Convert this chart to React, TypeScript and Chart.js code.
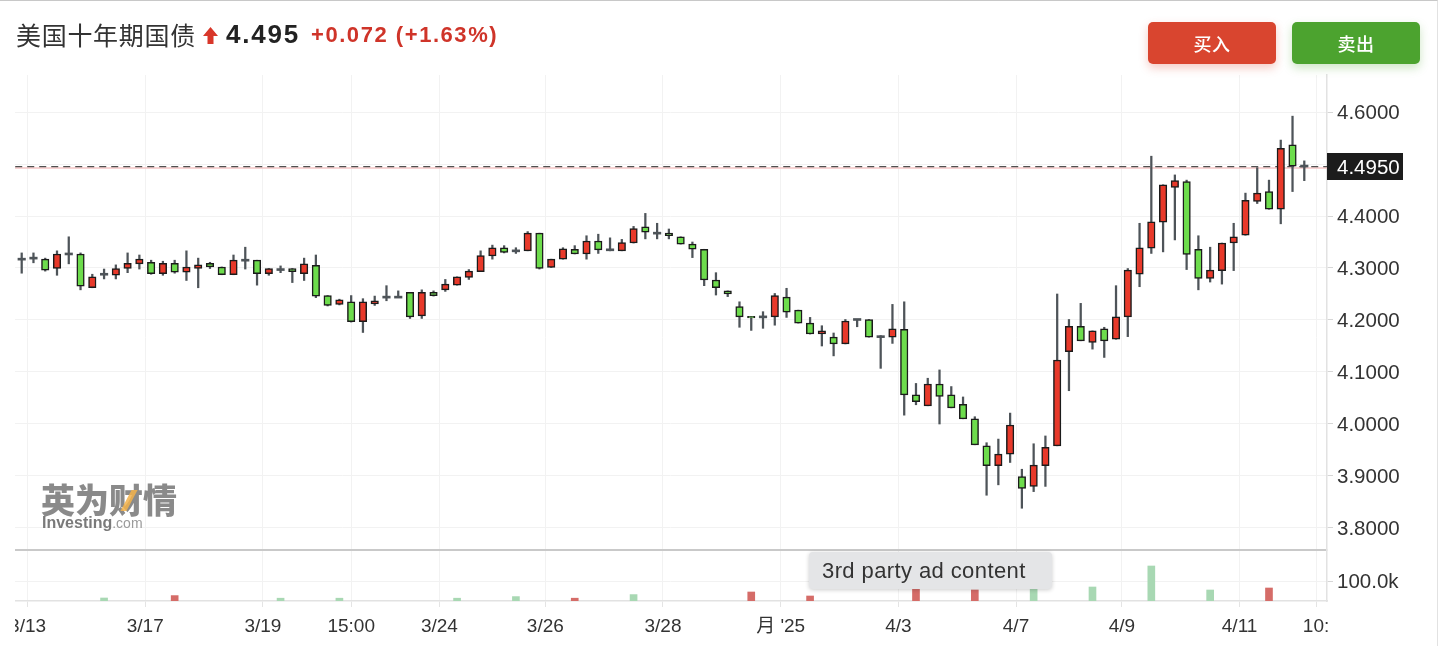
import React, { useEffect, useRef } from "react";
import { Chart, registerables } from "chart.js";

Chart.register(...registerables);

// ---------- data ----------
const opens = [
  4.317, 4.319, 4.317, 4.299, 4.327, 4.327, 4.262, 4.288, 4.286, 4.299,
  4.308, 4.311, 4.289, 4.309, 4.292, 4.299, 4.309, 4.302, 4.287, 4.315,
  4.315, 4.289, 4.297, 4.299, 4.289, 4.305, 4.247, 4.230, 4.235, 4.197,
  4.231, 4.244, 4.244, 4.253, 4.208, 4.253, 4.258, 4.267, 4.282, 4.293,
  4.323, 4.339, 4.333, 4.333, 4.367, 4.301, 4.317, 4.336, 4.327, 4.352,
  4.335, 4.333, 4.348, 4.379, 4.367, 4.367, 4.360, 4.346, 4.336, 4.277,
  4.256, 4.226, 4.207, 4.206, 4.206, 4.244, 4.219, 4.194, 4.173, 4.167,
  4.154, 4.201, 4.201, 4.168, 4.167, 4.182, 4.056, 4.035, 4.077, 4.056,
  4.038, 4.010, 3.958, 3.920, 3.942, 3.899, 3.880, 3.920, 3.958, 4.139,
  4.188, 4.157, 4.183, 4.163, 4.206, 4.288, 4.338, 4.388, 4.455, 4.466,
  4.336, 4.280, 4.295, 4.348, 4.363, 4.428, 4.447, 4.413, 4.537, 4.496,
];
const closes = [
  4.317, 4.319, 4.296, 4.327, 4.327, 4.265, 4.283, 4.288, 4.299, 4.309,
  4.317, 4.289, 4.309, 4.292, 4.302, 4.306, 4.302, 4.287, 4.315, 4.315,
  4.289, 4.299, 4.297, 4.293, 4.308, 4.246, 4.228, 4.239, 4.197, 4.235,
  4.237, 4.244, 4.244, 4.206, 4.253, 4.247, 4.269, 4.283, 4.294, 4.324,
  4.339, 4.330, 4.333, 4.367, 4.299, 4.317, 4.337, 4.327, 4.352, 4.335,
  4.335, 4.349, 4.376, 4.369, 4.367, 4.362, 4.346, 4.336, 4.277, 4.262,
  4.250, 4.206, 4.204, 4.206, 4.247, 4.215, 4.194, 4.173, 4.179, 4.154,
  4.198, 4.201, 4.167, 4.168, 4.183, 4.056, 4.043, 4.077, 4.053, 4.031,
  4.010, 3.960, 3.920, 3.942, 3.998, 3.876, 3.921, 3.955, 4.123, 4.188,
  4.160, 4.179, 4.160, 4.206, 4.296, 4.339, 4.389, 4.460, 4.468, 4.326,
  4.280, 4.296, 4.348, 4.360, 4.430, 4.444, 4.413, 4.530, 4.496, 4.496,
];
const highs = [
  4.329, 4.329, 4.319, 4.333, 4.360, 4.329, 4.288, 4.298, 4.306, 4.329,
  4.325, 4.315, 4.313, 4.315, 4.333, 4.319, 4.311, 4.302, 4.325, 4.340,
  4.315, 4.299, 4.304, 4.299, 4.319, 4.325, 4.247, 4.240, 4.247, 4.241,
  4.246, 4.266, 4.256, 4.253, 4.258, 4.256, 4.278, 4.283, 4.297, 4.333,
  4.344, 4.343, 4.339, 4.370, 4.367, 4.317, 4.339, 4.343, 4.362, 4.365,
  4.358, 4.355, 4.380, 4.405, 4.386, 4.375, 4.360, 4.350, 4.336, 4.291,
  4.256, 4.235, 4.207, 4.216, 4.251, 4.261, 4.219, 4.205, 4.189, 4.175,
  4.201, 4.201, 4.201, 4.170, 4.230, 4.235, 4.078, 4.088, 4.104, 4.072,
  4.052, 4.014, 3.964, 3.971, 4.021, 3.913, 3.962, 3.977, 4.250, 4.201,
  4.232, 4.179, 4.186, 4.266, 4.299, 4.386, 4.515, 4.460, 4.479, 4.469,
  4.362, 4.340, 4.348, 4.386, 4.444, 4.493, 4.469, 4.546, 4.592, 4.506,
];
const lows = [
  4.290, 4.310, 4.294, 4.286, 4.308, 4.258, 4.262, 4.279, 4.279, 4.291,
  4.298, 4.288, 4.286, 4.290, 4.276, 4.262, 4.299, 4.287, 4.287, 4.298,
  4.267, 4.286, 4.291, 4.272, 4.276, 4.243, 4.227, 4.229, 4.196, 4.176,
  4.228, 4.237, 4.243, 4.203, 4.203, 4.246, 4.255, 4.267, 4.278, 4.293,
  4.317, 4.329, 4.328, 4.333, 4.298, 4.301, 4.317, 4.327, 4.317, 4.328,
  4.333, 4.333, 4.348, 4.356, 4.356, 4.356, 4.346, 4.320, 4.266, 4.248,
  4.245, 4.186, 4.180, 4.184, 4.190, 4.205, 4.194, 4.173, 4.150, 4.131,
  4.154, 4.187, 4.167, 4.107, 4.155, 4.017, 4.037, 4.035, 4.000, 4.031,
  4.010, 3.960, 3.863, 3.883, 3.926, 3.838, 3.870, 3.880, 3.958, 4.064,
  4.160, 4.144, 4.128, 4.163, 4.168, 4.264, 4.328, 4.331, 4.354, 4.297,
  4.258, 4.273, 4.269, 4.295, 4.363, 4.424, 4.413, 4.385, 4.447, 4.468,
];

const volumeIndex = [7, 13, 22, 27, 37, 42, 47, 52, 62, 67, 76, 81, 86, 91, 96, 101, 106];
const volumeValues = [15000, 27000, 14000, 14000, 14000, 22000, 14000, 32000, 45000, 25000, 80000, 55000, 80000, 70000, 175000, 55000, 65000];
const volumeRising = [false, true, false, false, false, false, true, false, true, true, true, true, false, false, false, false, true];

const priceTicks = [3.8, 3.9, 4.0, 4.1, 4.2, 4.3, 4.4, 4.5, 4.6];
const volumeTicks = [100000];
const timeTickPos = [0.5, 10.5, 20.5, 28, 35.5, 44.5, 54.5, 64.5, 74.5, 84.5, 93.5, 103.5, 110];
const timeTickLabels = ["3/13", "3/17", "3/19", "15:00", "3/24", "3/26", "3/28", "月 '25", "4/3", "4/7", "4/9", "4/11", "10:"];

const lastPrice = 4.495;
const priceMin = 3.757692;
const priceMax = 4.671154;
const volumeMax = 255000;
const xMin = -0.5694;
const xMax = 110.93;

// ---------- styles ----------
const RED = "#e8392a";
const GREEN = "#6ddc4c";
const WICK = "#4e5459";
const VOL_RED = "#d56c68";
const VOL_GREEN = "#a8d8b3";
const GRID = "#f2f2f2";
const AXIS_FONT = "'Liberation Sans', 'Noto Sans CJK SC', Arial, sans-serif";

const lastPriceTag = {
  id: "lastPriceTag",
  afterDraw(chart: any) {
    const { ctx, chartArea } = chart;
    const y = chart.scales.y.getPixelForValue(lastPrice);
    ctx.save();
    ctx.fillStyle = "#1c1c1c";
    ctx.fillRect(chartArea.right, Math.round(y) - 14, 76, 27);
    ctx.fillStyle = "#ffffff";
    ctx.font = `20.5px ${AXIS_FONT}`;
    ctx.textBaseline = "middle";
    ctx.textAlign = "left";
    ctx.fillText(lastPrice.toFixed(4), chartArea.right + 10, Math.round(y) + 1);
    ctx.restore();
  },
};

function buildConfig(): any {
  const idx = opens.map((_, i) => i);
  const isDoji = (i: number) => opens[i] === closes[i];
  const bodies = idx.filter((i) => !isDoji(i)).map((i) => ({ x: i, y: [opens[i], closes[i]] }));
  const dojis = idx.filter((i) => isDoji(i)).map((i) => ({ x: i, y: [opens[i] - 0.0019, opens[i] + 0.0019] }));
  const wicks = idx.map((i) => ({ x: i, y: [lows[i], highs[i]] }));
  const vols = volumeIndex.map((x, k) => ({ x, y: volumeValues[k] }));

  return {
    type: "bar",
    data: {
      datasets: [
        {
          type: "bar",
          label: "body",
          data: bodies,
          yAxisID: "y",
          grouped: false,
          barThickness: 7.5,
          borderWidth: 1.5,
          borderSkipped: false,
          borderColor: "#1b1b1b",
          backgroundColor: (c: any) => (c.raw && c.raw.y[1] >= c.raw.y[0] ? RED : GREEN),
          order: 1,
        },
        {
          type: "bar",
          label: "doji",
          data: dojis,
          yAxisID: "y",
          grouped: false,
          barThickness: 7.5,
          borderWidth: 0,
          backgroundColor: WICK,
          order: 1,
        },
        {
          type: "bar",
          label: "wick",
          data: wicks,
          yAxisID: "y",
          grouped: false,
          barThickness: 1.6,
          borderWidth: 0,
          backgroundColor: WICK,
          order: 2,
        },
        {
          type: "line",
          label: "last",
          data: [{ x: xMin - 1, y: lastPrice }, { x: xMax + 1, y: lastPrice }],
          yAxisID: "y",
          borderColor: "#505050",
          borderWidth: 1.4,
          borderDash: [7, 5],
          pointRadius: 0,
          order: 3,
        },
        {
          type: "line",
          label: "lastShade",
          data: [{ x: xMin - 1, y: lastPrice - 0.0027 }, { x: xMax + 1, y: lastPrice - 0.0027 }],
          yAxisID: "y",
          borderColor: "#f4c4c4",
          borderWidth: 1.5,
          pointRadius: 0,
          order: 4,
        },
        {
          type: "bar",
          label: "volume",
          data: vols,
          yAxisID: "yVol",
          grouped: false,
          barThickness: 7,
          borderWidth: 0,
          backgroundColor: volumeRising.map((r) => (r ? VOL_RED : VOL_GREEN)),
          order: 5,
        },
      ],
    },
    options: {
      animation: false,
      responsive: false,
      maintainAspectRatio: false,
      layout: { padding: { top: 75, left: 0, right: 0, bottom: 0 } },
      plugins: { legend: { display: false }, tooltip: { enabled: false } },
      scales: {
        x: {
          type: "linear",
          min: xMin,
          max: xMax,
          offset: false,
          afterBuildTicks: (s: any) => {
            s.ticks = timeTickPos.map((v) => ({ value: v }));
          },
          afterFit: (s: any) => {
            s.height = 45;
            s.paddingLeft = 0;
            s.paddingRight = 0;
          },
          ticks: {
            autoSkip: false,
            maxRotation: 0,
            minRotation: 0,
            padding: 8,
            color: "#333",
            font: { family: AXIS_FONT, size: 19 },
            callback: (_v: any, i: number) => timeTickLabels[i],
          },
          grid: { color: GRID, tickColor: "#e4e4e4", tickLength: 6, offset: false },
          border: { color: "#e2e2e2", width: 1.5 },
        },
        y: {
          type: "linear",
          position: "right",
          stack: "panes",
          stackWeight: 475,
          min: priceMin,
          max: priceMax,
          afterBuildTicks: (s: any) => {
            s.ticks = priceTicks.map((v) => ({ value: v }));
          },
          afterFit: (s: any) => {
            s.width = 113;
          },
          ticks: {
            padding: 4,
            labelOffset: 1.5,
            color: "#333",
            font: { family: AXIS_FONT, size: 20.5 },
            callback: (v: any) => Number(v).toFixed(4),
          },
          grid: { color: GRID, tickColor: "#d6d6d6", tickLength: 6 },
          border: { color: "#e2e2e2", width: 1.5 },
        },
        yVol: {
          type: "linear",
          position: "right",
          stack: "panes",
          stackWeight: 51,
          min: 0,
          max: volumeMax,
          afterBuildTicks: (s: any) => {
            s.ticks = [...volumeTicks, volumeMax].map((v) => ({ value: v }));
          },
          afterFit: (s: any) => {
            s.width = 113;
          },
          ticks: {
            padding: 4,
            labelOffset: 1.5,
            color: "#333",
            font: { family: AXIS_FONT, size: 20.5 },
            callback: (v: any) => (v === volumeMax ? "" : (Number(v) / 1000).toFixed(1) + "k"),
          },
          grid: {
            color: (c: any) => (c.tick && c.tick.value === volumeMax ? "#c9c9c9" : GRID),
            lineWidth: (c: any) => (c.tick && c.tick.value === volumeMax ? 2 : 1),
            tickColor: (c: any) => (c.tick && c.tick.value === volumeMax ? "rgba(0,0,0,0)" : "#d6d6d6"),
            tickLength: 6,
          },
          border: { color: "#e2e2e2", width: 1.5 },
        },
      },
    },
    plugins: [lastPriceTag],
  };
}

export default function App() {
  const canvasRef = useRef<HTMLCanvasElement>(null);

  useEffect(() => {
    const chart = new Chart(canvasRef.current as HTMLCanvasElement, buildConfig());
    return () => chart.destroy();
  }, []);

  const cjk = "'Noto Sans CJK SC', 'Liberation Sans', sans-serif";
  const latin = "'Liberation Sans', Arial, sans-serif";

  return (
    <div style={{ position: "fixed", left: 0, top: 0, width: 1440, height: 646, background: "#fff", overflow: "hidden" }}>
      <div style={{ position: "absolute", left: 0, top: 0, width: 1438, height: 646, borderTop: "1px solid #c8c8c8", borderRight: "1px solid #e2e2e2", boxSizing: "border-box" }} />
      <canvas ref={canvasRef} width={1425} height={646} style={{ position: "absolute", left: 15, top: 0, width: 1425, height: 646 }} />

      {/* header */}
      <div style={{ position: "absolute", left: 16, top: 22, fontFamily: cjk, fontSize: 25, lineHeight: "25px", letterSpacing: 0.7, color: "#333", whiteSpace: "nowrap" }}>美国十年期国债</div>
      <svg style={{ position: "absolute", left: 203, top: 27 }} width="15" height="17" viewBox="0 0 15 17">
        <polygon points="7.5,0 15,9 10.5,9 10.5,17 4.5,17 4.5,9 0,9" fill="#d8372a" />
      </svg>
      <div style={{ position: "absolute", left: 226, top: 21, fontFamily: latin, fontWeight: 700, fontSize: 26, lineHeight: "26px", letterSpacing: 1.8, color: "#222", whiteSpace: "nowrap" }}>4.495</div>
      <div style={{ position: "absolute", left: 311, top: 24, fontFamily: latin, fontWeight: 700, fontSize: 22, lineHeight: "22px", letterSpacing: 1.55, color: "#cf3429", whiteSpace: "nowrap" }}>+0.072 (+1.63%)</div>

      {/* buttons */}
      <div style={{ position: "absolute", left: 1148, top: 22, width: 128, height: 42, background: "#d9452f", borderRadius: 5, boxShadow: "0 4px 10px rgba(217,69,47,0.28)", color: "#fff", fontFamily: cjk, fontWeight: 500, fontSize: 18, lineHeight: "42px", textAlign: "center", letterSpacing: 0.5 }}>买入</div>
      <div style={{ position: "absolute", left: 1292, top: 22, width: 128, height: 42, background: "#4ca32f", borderRadius: 5, boxShadow: "0 4px 10px rgba(76,163,47,0.28)", color: "#fff", fontFamily: cjk, fontWeight: 500, fontSize: 18, lineHeight: "42px", textAlign: "center", letterSpacing: 0.5 }}>卖出</div>

      {/* watermark */}
      <div style={{ position: "absolute", left: 41, top: 482, fontFamily: cjk, fontWeight: 900, fontSize: 34, lineHeight: "34px", color: "#8a8a8a", letterSpacing: 0, whiteSpace: "nowrap" }}>英为财情</div>
      <div style={{ position: "absolute", left: 126, top: 490, width: 6, height: 21, background: "#f2b24a", transform: "skewX(-28deg)", opacity: 0.85 }} />
      <div style={{ position: "absolute", left: 42, top: 514, fontFamily: latin, fontSize: 16, lineHeight: "17px", color: "#7a7a7a", whiteSpace: "nowrap" }}>
        <span style={{ fontWeight: 700 }}>Investing</span>
        <span style={{ fontSize: 14, color: "#9a9a9a" }}>.com</span>
      </div>

      {/* ad label overlay */}
      <div style={{ position: "absolute", left: 809, top: 552, width: 243, height: 37, background: "#e4e5e7", borderRadius: 4, boxShadow: "0 1px 4px rgba(0,0,0,0.2)", fontFamily: latin, fontSize: 22, lineHeight: "37px", color: "#333", paddingLeft: 13, boxSizing: "border-box", letterSpacing: 0.4, whiteSpace: "nowrap" }}>3rd party ad content</div>
    </div>
  );
}
